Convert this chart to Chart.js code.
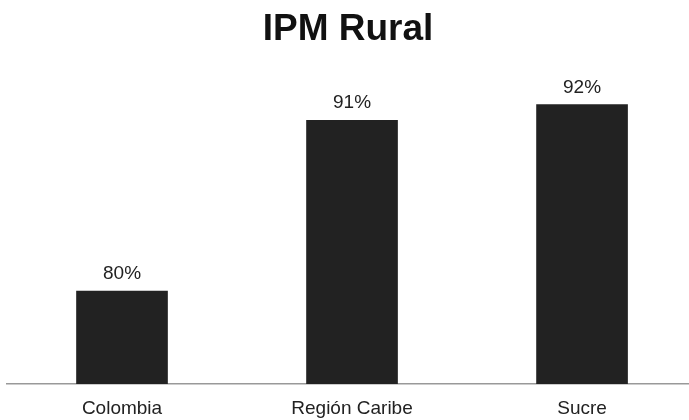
<!DOCTYPE html>
<html lang="es">
<head>
    <meta charset="UTF-8">
    <title>IPM Rural</title>
    <style>
        html, body {
            margin: 0;
            padding: 0;
            background: #ffffff;
        }
        #chartContainer {
            width: 689px;
            height: 420px;
        }
    </style>
</head>
<body>
    <div id="chartContainer">
        <canvas id="ipmChart"></canvas>
    </div>

    <script src="https://cdn.jsdelivr.net/npm/chart.js@4.4.3/dist/chart.umd.min.js"></script>

    <script>
        // datos del gráfico
        const categories = ['Colombia', 'Región Caribe', 'Sucre'];
        const ipmValues = [80, 91, 92];
        const chartTitle = 'IPM Rural';

        const FONT = '"Liberation Sans", Arial, Helvetica, sans-serif';

        // etiquetas de valor sobre cada barra
        const valueLabels = {
            id: 'valueLabels',
            afterDatasetsDraw(chart) {
                const ctx = chart.ctx;
                const meta = chart.getDatasetMeta(0);
                ctx.save();
                ctx.font = '19px ' + FONT;
                ctx.fillStyle = '#222222';
                ctx.textAlign = 'center';
                ctx.textBaseline = 'alphabetic';
                meta.data.forEach((bar, i) => {
                    ctx.fillText(ipmValues[i] + '%', bar.x, bar.y - 12);
                });
                ctx.restore();
            }
        };

        const ctx = document.getElementById('ipmChart').getContext('2d');
        const ipmChart = new Chart(ctx, {
            type: 'bar',
            data: {
                datasets: [{
                    label: chartTitle,
                    data: ipmValues.map((v, i) => ({ x: i, y: v })),
                    backgroundColor: '#222222',
                    borderWidth: 0,
                    barThickness: 91
                }]
            },
            options: {
                responsive: true,
                maintainAspectRatio: false,
                animation: false,
                layout: {
                    padding: { left: 7, right: 0, top: 0, bottom: 1 }
                },
                scales: {
                    x: {
                        type: 'linear',
                        offset: false,
                        min: -0.5,
                        max: 2.465,
                        afterBuildTicks: (scale) => {
                            scale.ticks = categories.map((_, i) => ({ value: i }));
                        },
                        afterFit: (scale) => {
                            scale.height = 35;
                        },
                        ticks: {
                            callback: (v) => categories[v],
                            color: '#222222',
                            padding: 13,
                            maxRotation: 0,
                            autoSkip: false,
                            font: { family: FONT, size: 19 }
                        },
                        grid: {
                            display: true,
                            drawOnChartArea: false,
                            drawTicks: false
                        },
                        border: {
                            display: true,
                            color: '#999999',
                            width: 1.5
                        }
                    },
                    y: {
                        display: false,
                        min: 74.02,
                        max: 94.85
                    }
                },
                plugins: {
                    legend: { display: false },
                    tooltip: { enabled: false },
                    title: {
                        display: true,
                        text: chartTitle,
                        color: '#111111',
                        font: { family: FONT, size: 37, weight: 'bold' },
                        padding: { top: 8, bottom: 8 }
                    }
                }
            },
            plugins: [valueLabels]
        });
    </script>
</body>
</html>
